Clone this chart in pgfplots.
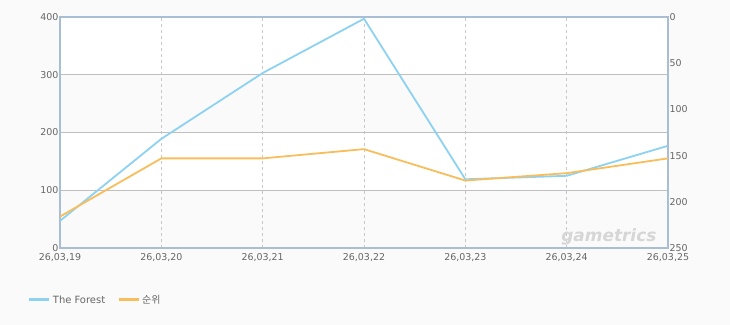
\documentclass[border=0pt]{standalone}
\usepackage{pgfplots}
\pgfplotsset{compat=1.18}
\usepackage{fontspec}
\setmainfont{DejaVu Sans}
\newfontfamily\kr{Noto Sans CJK KR}
\definecolor{bgc}{HTML}{FAFAFA}
\definecolor{frame}{HTML}{A9BDD3}
\definecolor{grid}{HTML}{C8C8C8}
\definecolor{txt}{HTML}{666666}
\definecolor{blueL}{HTML}{8ED2F2}
\definecolor{orangeL}{HTML}{F8BE5C}
\begin{document}
\begin{tikzpicture}
\fill[bgc] (0bp,0bp) rectangle (730bp,-325bp);
\useasboundingbox (0bp,0bp) rectangle (730bp,-325bp);
\begin{axis}[
  at={(60bp,-248bp)}, anchor=south west,
  scale only axis, width=608bp, height=231bp,
  xmin=0, xmax=6, ymin=0, ymax=400,
  hide axis,
]
\addplot[draw=none, fill=white] coordinates {(0,300) (6,300) (6,400) (0,400) (0,300)};
\addplot[draw=none, fill=white] coordinates {(0,100) (6,100) (6,200) (0,200) (0,100)};
\end{axis}
\begin{axis}[
  at={(60bp,-248bp)}, anchor=south west,
  scale only axis, width=608bp, height=231bp,
  xmin=0, xmax=6, ymin=0, ymax=400,
  xtick={0,...,6},
  xticklabels={{26,03,19},{26,03,20},{26,03,21},{26,03,22},{26,03,23},{26,03,24},{26,03,25}},
  ytick={0,100,200,300,400},
  /pgf/number format/assume math mode=true,
  tick label style={font=\fontsize{9.5}{11}\selectfont, text=txt},
  yticklabel style={xshift=2bp},
  xticklabel style={yshift=-1.5bp},
  major tick length=0pt,
  axis line style={frame, line width=1.5bp},
  ymajorgrids, grid style={grid, line width=0.6bp},
  xmajorgrids,
  x grid style={grid, dashed, line width=0.6bp},
  legend style={at={(-0.058,-0.225)}, anchor=west, draw=none, fill=none,
    font=\fontsize{10}{12}\selectfont\color{txt}, legend columns=2,
    /tikz/every even column/.append style={column sep=10bp}},
  legend image code/.code={\draw[#1, line width=3bp] (0bp,0bp) -- (20bp,0bp);},
]
\addplot[blueL, line width=1.8bp, mark=none] coordinates {
(0,47) (1,189) (2,303) (3,397) (4,119) (5,125) (6,177)};
\addlegendentry{The Forest}
\addlegendimage{orangeL}
\addlegendentry{\kr 순위}
\node[text=black!16, font=\bfseries\itshape\fontsize{17}{18}\selectfont, anchor=east] at (axis cs:5.92,20) {gametrics};
\end{axis}
\begin{axis}[
  at={(60bp,-248bp)}, anchor=south west,
  scale only axis, width=608bp, height=231bp,
  xmin=0, xmax=6, ymin=0, ymax=250,
  y dir=reverse,
  axis x line=none,
  axis y line*=right,
  ytick={0,50,100,150,200,250},
  /pgf/number format/assume math mode=true,
  tick label style={font=\fontsize{9.5}{11}\selectfont, text=txt},
  yticklabel style={xshift=-2bp},
  major tick length=0pt,
  axis line style={frame, line width=1.5bp},
]
\addplot[orangeL, line width=1.8bp, mark=none] coordinates {
(0,216) (1,153) (2,153) (3,143) (4,177) (5,169) (6,153)};
\end{axis}
\end{tikzpicture}
\end{document}
